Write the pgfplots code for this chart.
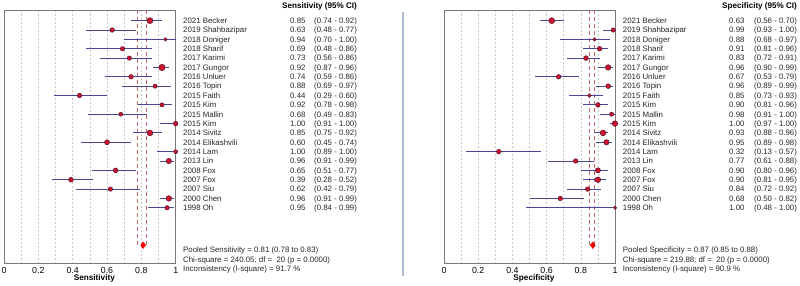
\documentclass[border=0pt]{standalone}
\usepackage{pgfplots}
\pgfplotsset{compat=1.18}
\usepackage{pgfplotstable}
\usepackage{fontspec}
\setmainfont{Liberation Sans}

\definecolor{ciblue}{RGB}{72,72,150}
\definecolor{mkfill}{RGB}{205,20,45}
\definecolor{mkdraw}{RGB}{85,20,45}
\definecolor{poolred}{RGB}{200,105,105}
\definecolor{gridgray}{RGB}{200,200,200}
\definecolor{sepblue}{RGB}{170,188,208}
\definecolor{framegray}{RGB}{120,120,120}

% row, estimate, lower, upper, marker radius
\pgfplotstableread{
i s lo hi r
0 0.85 0.74 0.92 3.0
1 0.63 0.48 0.77 2.3
2 0.94 0.70 1.00 1.7
3 0.69 0.48 0.86 2.2
4 0.73 0.56 0.86 2.2
5 0.92 0.87 0.96 3.2
6 0.74 0.59 0.86 2.3
7 0.88 0.69 0.97 2.1
8 0.44 0.29 0.60 2.3
9 0.92 0.78 0.98 2.1
10 0.68 0.49 0.83 2.0
11 1.00 0.91 1.00 2.3
12 0.85 0.75 0.92 2.9
13 0.60 0.45 0.74 2.5
14 1.00 0.89 1.00 2.0
15 0.96 0.91 0.99 2.7
16 0.65 0.51 0.77 2.4
17 0.39 0.28 0.52 2.4
18 0.62 0.42 0.79 2.2
19 0.96 0.91 0.99 2.8
20 0.95 0.84 0.99 2.2
}\sens

\pgfplotstableread{
i s lo hi r
0 0.63 0.56 0.70 3.0
1 0.99 0.93 1.00 2.2
2 0.88 0.68 0.97 1.7
3 0.91 0.81 0.96 2.3
4 0.83 0.72 0.91 2.4
5 0.96 0.90 0.99 2.8
6 0.67 0.53 0.79 2.3
7 0.96 0.89 0.99 2.4
8 0.85 0.73 0.93 1.9
9 0.90 0.81 0.96 2.3
10 0.98 0.91 1.00 2.1
11 1.00 0.97 1.00 2.8
12 0.93 0.88 0.96 2.9
13 0.95 0.89 0.98 2.7
14 0.32 0.13 0.57 2.3
15 0.77 0.61 0.88 2.3
16 0.90 0.80 0.96 2.6
17 0.90 0.81 0.95 2.8
18 0.84 0.72 0.92 2.3
19 0.68 0.50 0.82 2.3
20 1.00 0.48 1.00 1.6
}\spec

\pgfplotsset{forest/.style={
  scale only axis, width=171.7pt, height=253pt,
  anchor=south west,
  xmin=0, xmax=1, ymin=-1.14, ymax=25.9, y dir=reverse,
  ytick=\empty,
  xtick={0,0.2,0.4,0.6,0.8,1},
  minor xtick={0.1,0.3,0.5,0.7,0.9},
  xmajorgrids, xminorgrids,
  grid style={gridgray, dash pattern=on 2pt off 2pt, line width=0.5pt},
  major tick length=0pt, minor tick length=0pt,
  axis line style={draw=framegray, line width=0.6pt},
  /pgf/number format/assume math mode=true,
  xticklabel style={font=\fontsize{8.8}{10}\selectfont, yshift=-0.5pt},
  xlabel style={at={(axis description cs:0.5,0)}, anchor=base, yshift=-17.8pt, xshift=4.5pt, font=\bfseries\fontsize{8.2}{10}\selectfont},
  clip=false,
}}

\newcommand{\ciplot}[1]{%
  \addplot[draw=none, mark=none, forget plot,
    error bars/.cd, x dir=both, x explicit, error mark=none,
    error bar style={draw=ciblue, line width=0.9pt, solid}]
    table[x=s, y=i, x error plus expr=\thisrow{hi}-\thisrow{s}, x error minus expr=\thisrow{s}-\thisrow{lo}] {#1};
  \addplot[scatter, only marks, mark=*,
    scatter/use mapped color={draw=mkdraw, fill=mkfill},
    visualization depends on={\thisrow{r}\as\rad},
    scatter/@pre marker code/.append style={/tikz/mark size=\rad pt},
    mark options={line width=0.5pt}]
    table[x=s, y=i, meta=i] {#1};
}

\begin{document}
\begin{tikzpicture}[x=1pt, y=1pt]
\useasboundingbox (0,0) rectangle (800,286);

% ---------- Sensitivity panel ----------
\begin{axis}[forest, at={(4pt,23pt)}, xlabel={Sensitivity}]
  \draw[poolred, dash pattern=on 4pt off 3pt, line width=1pt] (axis cs:0.78,-1.14) -- (axis cs:0.78,24.1);
  \draw[poolred, dash pattern=on 4pt off 3pt, line width=1pt] (axis cs:0.83,-1.14) -- (axis cs:0.83,24.1);
  \ciplot{\sens}
  \addplot[only marks, mark=diamond*, mark size=3.3pt, mark options={fill=red, draw=red!85!black, line width=0.4pt}] coordinates {(0.81,24)};
\end{axis}

% ---------- Specificity panel ----------
\begin{axis}[forest, at={(444pt,23pt)}, width=171pt, xlabel={Specificity}]
  \draw[poolred, dash pattern=on 4pt off 3pt, line width=1pt] (axis cs:0.85,-1.14) -- (axis cs:0.85,24.1);
  \draw[poolred, dash pattern=on 4pt off 3pt, line width=1pt] (axis cs:0.88,-1.14) -- (axis cs:0.88,24.1);
  \ciplot{\spec}
  \addplot[only marks, mark=diamond*, mark size=3.3pt, mark options={fill=red, draw=red!85!black, line width=0.4pt}] coordinates {(0.87,24)};
\end{axis}

% separator
\draw[sepblue, line width=1.5pt] (403,274) -- (403,10);

% headers
\node[anchor=base west, inner sep=0pt, font=\bfseries\fontsize{8.1}{10}\selectfont] at (282,277.2) {Sensitivity (95\% CI)};
\node[anchor=base west, inner sep=0pt, font=\bfseries\fontsize{8.1}{10}\selectfont] at (722,277.2) {Specificity (95\% CI)};

% sensitivity table
\begin{scope}[every node/.style={anchor=base west, inner sep=0pt, font=\fontsize{7.85}{9}\selectfont, text=black!85}]
\foreach \i/\n/\v/\c in {
 0/2021 Becker/0.85/(0.74 - 0.92),
 1/2019 Shahbazipar/0.63/(0.48 - 0.77),
 2/2018 Doniger/0.94/(0.70 - 1.00),
 3/2018 Sharif/0.69/(0.48 - 0.86),
 4/2017 Karimi/0.73/(0.56 - 0.86),
 5/2017 Gungor/0.92/(0.87 - 0.96),
 6/2016 Unluer/0.74/(0.59 - 0.86),
 7/2016 Topin/0.88/(0.69 - 0.97),
 8/2015 Faith/0.44/(0.29 - 0.60),
 9/2015 Kim/0.92/(0.78 - 0.98),
 10/2015 Mallin/0.68/(0.49 - 0.83),
 11/2015 Kim/1.00/(0.91 - 1.00),
 12/2014 Sivitz/0.85/(0.75 - 0.92),
 13/2014 Elikashvili/0.60/(0.45 - 0.74),
 14/2014 Lam/1.00/(0.89 - 1.00),
 15/2013 Lin/0.96/(0.91 - 0.99),
 16/2008 Fox/0.65/(0.51 - 0.77),
 17/2007 Fox/0.39/(0.28 - 0.52),
 18/2007 Siu/0.62/(0.42 - 0.79),
 19/2000 Chen/0.96/(0.91 - 0.99),
 20/1998 Oh/0.95/(0.84 - 0.99)}{
  \node at (183,{262.53-9.357*\i}) {\n};
  \node at (290,{262.53-9.357*\i}) {\v};
  \node at (314,{262.53-9.357*\i}) {\c};
}
\node at (183,33.9) {Pooled Sensitivity = 0.81 (0.78 to 0.83)};
\node at (183,23.9) {Chi-square = 240.05; df =\ \ 20 (p = 0.0000)};
\node at (183,14.2) {Inconsistency (I-square) = 91.7 \%};
\end{scope}

% specificity table
\begin{scope}[every node/.style={anchor=base west, inner sep=0pt, font=\fontsize{7.85}{9}\selectfont, text=black!85}]
\foreach \i/\n/\v/\c in {
 0/2021 Becker/0.63/(0.56 - 0.70),
 1/2019 Shahbazipar/0.99/(0.93 - 1.00),
 2/2018 Doniger/0.88/(0.68 - 0.97),
 3/2018 Sharif/0.91/(0.81 - 0.96),
 4/2017 Karimi/0.83/(0.72 - 0.91),
 5/2017 Gungor/0.96/(0.90 - 0.99),
 6/2016 Unluer/0.67/(0.53 - 0.79),
 7/2016 Topin/0.96/(0.89 - 0.99),
 8/2015 Faith/0.85/(0.73 - 0.93),
 9/2015 Kim/0.90/(0.81 - 0.96),
 10/2015 Mallin/0.98/(0.91 - 1.00),
 11/2015 Kim/1.00/(0.97 - 1.00),
 12/2014 Sivitz/0.93/(0.88 - 0.96),
 13/2014 Elikashvili/0.95/(0.89 - 0.98),
 14/2014 Lam/0.32/(0.13 - 0.57),
 15/2013 Lin/0.77/(0.61 - 0.88),
 16/2008 Fox/0.90/(0.80 - 0.96),
 17/2007 Fox/0.90/(0.81 - 0.95),
 18/2007 Siu/0.84/(0.72 - 0.92),
 19/2000 Chen/0.68/(0.50 - 0.82),
 20/1998 Oh/1.00/(0.48 - 1.00)}{
  \node at (622.7,{262.53-9.357*\i}) {\n};
  \node at (729,{262.53-9.357*\i}) {\v};
  \node at (754,{262.53-9.357*\i}) {\c};
}
\node at (622.7,33.9) {Pooled Specificity = 0.87 (0.85 to 0.88)};
\node at (622.7,23.9) {Chi-square = 219.88; df =\ \ 20 (p = 0.0000)};
\node at (622.7,14.2) {Inconsistency (I-square) = 90.9 \%};
\end{scope}
\end{tikzpicture}
\end{document}
